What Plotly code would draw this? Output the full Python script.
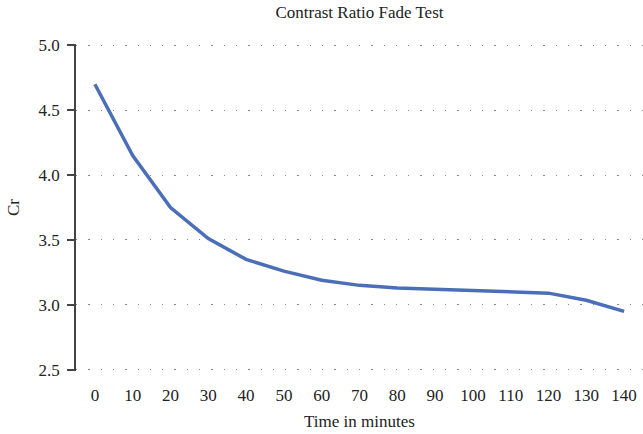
import plotly.graph_objects as go

minutes = [0, 10, 20, 30, 40, 50, 60, 70, 80, 90, 100, 110, 120, 130, 140]
cr = [4.70, 4.15, 3.75, 3.51, 3.35, 3.26, 3.19, 3.15, 3.13, 3.12, 3.11, 3.10, 3.09, 3.035, 2.95]
tick_vals = minutes
tick_text = [str(m) for m in minutes]
y_ticks = [2.5, 3.0, 3.5, 4.0, 4.5, 5.0]
y_text = ["2.5", "3.0", "3.5", "4.0", "4.5", "5.0"]

font = "Liberation Serif, Times New Roman, serif"

fig = go.Figure()
fig.add_trace(go.Scatter(
    x=minutes, y=cr, mode="lines",
    line=dict(color="#4a6fb8", width=3.5),
    showlegend=False,
))

fig.update_layout(
    width=643, height=434,
    margin=dict(l=76, r=0, t=44, b=63),
    paper_bgcolor="white", plot_bgcolor="white",
    font=dict(family=font, size=17, color="#222222"),
    title=dict(text="Contrast Ratio Fade Test", x=0.5, xref="paper", y=0.972, yanchor="middle",
               font=dict(size=17, family=font, color="#222222")),
    xaxis=dict(
        range=[-5, 145], tickmode="array", tickvals=tick_vals, ticktext=tick_text,
        showgrid=False, zeroline=False, showline=False,
        ticks="outside", ticklen=9, tickcolor="rgba(0,0,0,0)", automargin=False,
        title=dict(text="Time in minutes", standoff=10, font=dict(size=17)),
        tickfont=dict(size=17),
    ),
    yaxis=dict(
        range=[2.49, 5.01], tickmode="array", tickvals=y_ticks, ticktext=y_text,
        showgrid=True, gridcolor="#888888", griddash="1.3px,11px", gridwidth=1.2,
        zeroline=False, showline=True, linecolor="#444444", linewidth=1.5,
        ticks="outside", ticklen=7, tickcolor="#444444", tickwidth=1.5, automargin=False,
        ticklabelstandoff=4,
        title=dict(text="Cr", standoff=15, font=dict(size=17)),
        tickfont=dict(size=17),
    ),
)

fig.write_html("out.html", config={"displayModeBar": False},
               post_script="document.body.style.margin='0';")
